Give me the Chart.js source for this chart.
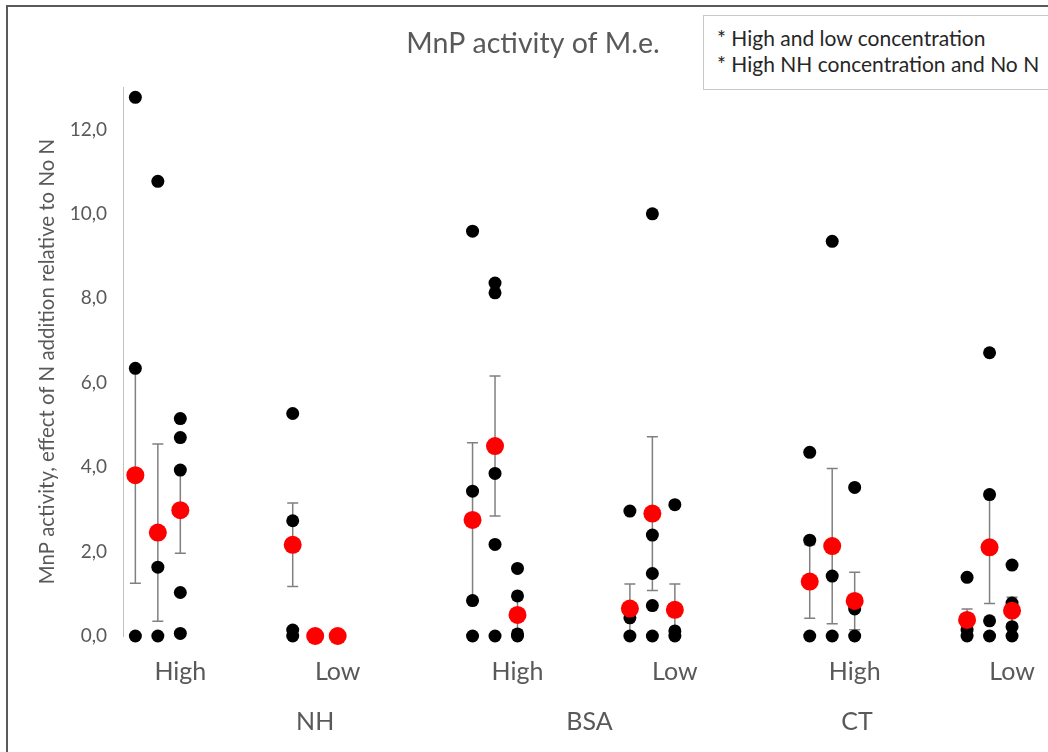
<!DOCTYPE html>
<html>
<head>
<meta charset="utf-8">
<script src="https://cdn.jsdelivr.net/npm/chart.js@4.4.1/dist/chart.umd.min.js"></script>
<style>
  body { margin: 0; background: #fff; }
  #wrap { position: relative; width: 1048px; height: 752px; overflow: hidden; font-family: Lato, sans-serif; }
  #frame { position: absolute; left: 6px; top: 5px; width: 1100px; height: 800px;
           border-left: 2px solid #5a5a5a; border-top: 2px solid #5a5a5a; }
  #note { position: absolute; left: 703px; top: 15px; width: 360px; height: 75px;
          border: 1px solid #c8c8c8; box-sizing: border-box; background: #fff;
          padding: 9px 0 0 13px; color: #262626; font-size: 21px; line-height: 26px; }
  canvas { position: absolute; left: 0; top: 0; }
</style>
</head>
<body>
<div id="wrap">
  <canvas id="mnpChart" width="1048" height="752"></canvas>
  <div id="frame"></div>
  <div id="note">* High and low concentration<br>* High NH concentration and No N</div>
</div>
<script>
// x position of each column (3 columns per concentration)
const colX = [0, 1, 2, 7, 8, 9, 15, 16, 17, 22, 23, 24, 30, 31, 32, 37, 38, 39];

// single measurements per column (black dots)
const samples = [
  [12.76, 6.34, 0], [10.77, 1.63, 0], [5.15, 4.70, 3.93, 1.03, 0.06],
  [5.27, 2.73, 0.14, 0], [0], [0],
  [9.59, 3.43, 0.84, 0], [8.36, 8.13, 3.85, 2.17, 0], [1.60, 0.95, 0.05, 0],
  [2.96, 0.43, 0], [10.0, 2.39, 1.48, 0.72, 0], [3.11, 0.12, 0],
  [4.35, 2.27, 0], [9.35, 1.42, 0], [3.52, 0.64, 0],
  [1.39, 0.14, 0], [6.71, 3.35, 0.36, 0], [1.68, 0.78, 0.22, 0]
];

// mean per column (red dots) and error (+/-)
const means = [3.81, 2.45, 2.98, 2.16, 0, 0, 2.75, 4.50, 0.50, 0.65, 2.90, 0.62, 1.29, 2.13, 0.83, 0.38, 2.10, 0.60];
const errs  = [2.56, 2.10, 1.02, 0.99, 0, 0, 1.83, 1.66, 0.36, 0.58, 1.82, 0.61, 0.87, 1.84, 0.68, 0.26, 1.33, 0.32];

const levelTicks = [2, 9, 17, 24, 32, 39];
const levelLabels = ['High', 'Low', 'High', 'Low', 'High', 'Low'];
const groupTicks = [8, 20.2, 32.1];
const groupLabels = ['NH', 'BSA', 'CT'];
const yTicks = [0, 2, 4, 6, 8, 10, 12];

const blackPts = [];
samples.forEach((vals, i) => vals.forEach(v => blackPts.push({x: colX[i], y: v})));
const redPts = means.map((m, i) => ({x: colX[i], y: m}));

const errorBars = {
  id: 'errorBars',
  beforeDatasetsDraw(chart) {
    const {ctx, scales: {x, y}} = chart;
    ctx.save();
    ctx.strokeStyle = '#808080';
    ctx.lineWidth = 1.5;
    colX.forEach((cx, i) => {
      if (!errs[i]) return;
      const px = x.getPixelForValue(cx);
      const t = y.getPixelForValue(means[i] + errs[i]);
      const b = y.getPixelForValue(Math.max(0, means[i] - errs[i]));
      ctx.beginPath();
      ctx.moveTo(px, t); ctx.lineTo(px, b);
      ctx.moveTo(px - 5.5, t); ctx.lineTo(px + 5.5, t);
      ctx.moveTo(px - 5.5, b); ctx.lineTo(px + 5.5, b);
      ctx.stroke();
    });
    ctx.restore();
  }
};

const fontFamily = 'Lato, sans-serif';
const grey = '#595959';

function noSidePad(s, h) {
  s.height = h;
  s.paddingLeft = 0;
  s.paddingRight = 0;
}

new Chart(document.getElementById('mnpChart'), {
  type: 'scatter',
  data: {
    datasets: [
      { label: 'means', data: redPts, backgroundColor: '#ff0000', borderWidth: 0,
        pointRadius: 9, pointHoverRadius: 9, clip: false, order: 0 },
      { label: 'values', data: blackPts, backgroundColor: '#000000', borderWidth: 0,
        pointRadius: 6.5, pointHoverRadius: 6.5, clip: false, order: 1 }
    ]
  },
  options: {
    responsive: false,
    animation: false,
    events: [],
    layout: { autoPadding: false, padding: { left: 18, right: 0, top: 0, bottom: 0 } },
    plugins: {
      legend: { display: false },
      tooltip: { enabled: false },
      title: {
        display: true,
        text: 'MnP activity of M.e.',
        color: grey,
        font: { family: fontFamily, size: 28.5, weight: 'normal' },
        padding: { top: 27, bottom: 26 }
      }
    },
    scales: {
      x: {
        type: 'linear', position: 'bottom', weight: 0,
        min: -0.55, max: 40.6,
        grid: { display: false, drawTicks: false },
        border: { display: false },
        afterBuildTicks: s => { s.ticks = levelTicks.map(v => ({value: v})); },
        ticks: {
          autoSkip: false, maxRotation: 0, padding: 21, color: grey,
          font: { family: fontFamily, size: 25 },
          callback: (v, i) => levelLabels[i]
        },
        afterFit: s => noSidePad(s, 56)
      },
      x2: {
        type: 'linear', position: 'bottom', weight: 1,
        min: -0.55, max: 40.6,
        grid: { display: false, drawTicks: false },
        border: { display: false },
        afterBuildTicks: s => { s.ticks = groupTicks.map(v => ({value: v})); },
        ticks: {
          autoSkip: false, maxRotation: 0, padding: 15, color: grey,
          font: { family: fontFamily, size: 25 },
          callback: (v, i) => groupLabels[i]
        },
        afterFit: s => noSidePad(s, 60)
      },
      y: {
        min: 0, max: 13,
        grid: { display: false, drawTicks: false },
        border: { display: true, color: '#c0c0c0', width: 1 },
        afterBuildTicks: s => { s.ticks = yTicks.map(v => ({value: v})); },
        ticks: {
          padding: 16, color: grey,
          font: { family: fontFamily, size: 19 },
          callback: v => v.toFixed(1).replace('.', ',')
        },
        title: {
          display: true,
          text: 'MnP activity, effect of N addition relative to No N',
          color: grey,
          font: { family: fontFamily, size: 20.4 },
          padding: { top: 17, bottom: 0 }
        },
        afterFit: s => { s.width = 105; }
      }
    }
  },
  plugins: [errorBars]
});
</script>
</body>
</html>
